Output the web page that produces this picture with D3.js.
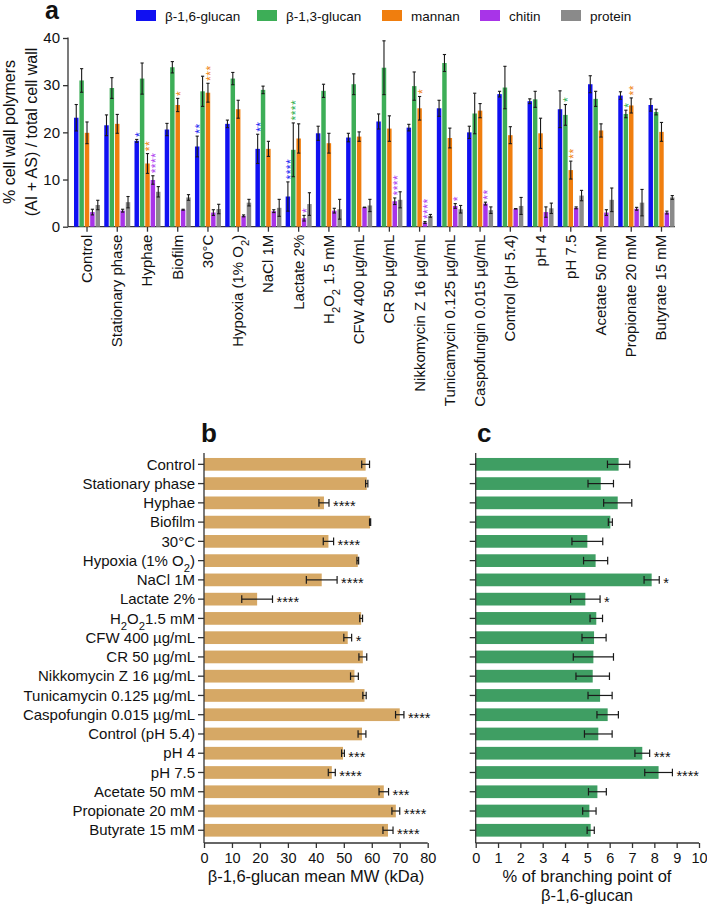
<!DOCTYPE html>
<html><head><meta charset="utf-8">
<script src="https://cdn.jsdelivr.net/npm/d3@7"></script>
<style>
html,body{margin:0;padding:0;background:#fff;}
svg{display:block;font-family:"Liberation Sans",Arial,sans-serif;}
</style></head>
<body>
<svg id="chart" width="707" height="905"></svg>
<script>
// ---------- DATA ----------
const categories = ["Control","Stationary phase","Hyphae","Biofilm","30°C","Hypoxia (1% O_2)","NaCl 1M","Lactate 2%","H_2O_2 1.5 mM","CFW 400 µg/mL","CR 50 µg/mL","Nikkomycin Z 16 µg/mL","Tunicamycin 0.125 µg/mL","Caspofungin 0.015 µg/mL","Control (pH 5.4)","pH 4","pH 7.5","Acetate 50 mM","Propionate 20 mM","Butyrate 15 mM"];
const categoriesB = ["Control","Stationary phase","Hyphae","Biofilm","30°C","Hypoxia (1% O_2)","NaCl 1M","Lactate 2%","H_2O_21.5 mM","CFW 400 µg/mL","CR 50 µg/mL","Nikkomycin Z 16 µg/mL","Tunicamycin 0.125 µg/mL","Caspofungin 0.015 µg/mL","Control (pH 5.4)","pH 4","pH 7.5","Acetate 50 mM","Propionate 20 mM","Butyrate 15 mM"];
const seriesNames = ["β-1,6-glucan","β-1,3-glucan","mannan","chitin","protein"];

const glucan16    = [23.1,21.5,18.2,20.6,17.0,21.8,16.5,6.4,19.8,18.9,22.3,21.0,25.1,20.0,28.1,26.6,24.9,30.2,27.8,25.8];
const glucan16Err = [2.8,2.2,0.3,1.3,2.2,0.8,3.1,3.1,1.5,0.9,1.6,0.7,1.7,1.3,0.6,0.5,3.9,1.8,0.8,1.3];
const glucan13    = [31.0,29.4,31.4,33.8,28.7,31.4,29.0,16.3,28.8,30.2,33.7,29.8,34.7,24.0,29.5,27.0,23.7,27.1,23.9,24.3];
const glucan13Err = [2.5,2.2,3.3,1.2,3.2,1.3,0.8,5.7,1.4,2.2,5.7,3.0,1.8,4.3,4.5,1.7,2.2,1.6,0.8,0.6];
const mannan      = [19.9,21.8,13.4,25.8,28.4,24.9,16.5,18.7,17.7,19.1,20.8,25.1,18.8,24.6,19.4,19.8,12.0,20.4,25.7,20.1];
const mannanErr   = [2.3,2.0,2.1,1.4,2.0,1.9,1.6,3.1,2.1,1.0,2.7,2.5,2.1,1.5,1.8,3.2,1.9,1.4,1.6,2.0];
const chitin      = [3.1,3.4,9.9,3.6,3.0,2.3,3.3,1.8,3.4,4.1,5.4,0.9,4.4,4.9,3.8,3.1,4.0,3.0,3.8,3.0];
const chitinErr   = [0.6,0.3,0.9,0.1,0.6,0.2,0.3,0.6,0.5,0.05,0.7,0.2,0.5,0.3,0.05,1.1,0.2,0.6,0.3,0.3];
const protein     = [4.6,5.2,7.4,6.2,3.75,5.1,4.0,4.8,3.7,4.5,5.7,2.3,3.7,3.5,4.4,3.9,6.6,5.7,5.1,6.2];
const proteinErr  = [1.0,1.2,1.1,0.6,1.0,0.7,1.8,2.4,2.1,1.3,1.7,0.3,0.8,0.7,1.8,1.1,1.1,2.5,2.8,0.4];

const glucan16Stars = ["","","*","","**","","**","****","","","","","","","","","","","",""];
const glucan13Stars = ["","","","","","","","****","","","","","","","","","*","","*",""];
const mannanStars   = ["","","**","*","***","","","","","","","*","","","","","**","","**",""];
const chitinStars   = ["","","****","","","","","*","","","****","****","*","**","","","","","",""];
const proteinStars  = ["","","","","","","","","","","","","","","","","","","",""];

const yTicksA = [0,10,20,30,40];

const mw      = [57.8,58.2,42.9,59.4,44.5,55.0,42.1,19.0,56.2,51.4,56.8,53.8,57.4,70.0,56.5,49.7,45.7,64.3,68.6,65.8];
const mwErr   = [1.4,0.4,1.8,0.2,1.85,0.3,5.5,5.5,0.5,1.4,1.4,1.4,0.6,1.5,1.4,0.5,1.25,1.7,1.4,1.8];
const mwStars = ["","","****","","****","","****","****","","*","","","","****","","***","****","***","****","****"];
const xTicksB = [0,10,20,30,40,50,60,70,80];

const branch      = [6.4,5.6,6.36,6.03,5.0,5.37,7.88,4.91,5.4,5.3,5.27,5.24,5.57,5.91,5.49,7.46,8.19,5.45,5.09,5.15];
const branchErr   = [0.5,0.57,0.63,0.09,0.69,0.54,0.34,0.66,0.28,0.54,0.9,0.75,0.54,0.48,0.62,0.33,0.62,0.4,0.3,0.16];
const branchStars = ["","","","","","","*","*","","","","","","","","***","****","","",""];
const xTicksC = [0,1,2,3,4,5,6,7,8,9,10];

// ---------- STYLE ----------
const colorsA = ["#1010F2","#3DAE57","#F07E0E","#A834E8","#8A8A8A"];
const starColorsA = ["#1E1EF2","#38B055","#F0861A","#B040F0","#888"];
const colorB = "#D6A865";
const colorC = "#3F9E63";
const axisColor = "#333";

const svg = d3.select("#chart");

function addLabel(sel, str){
  const parts = str.split(/(_\d)/);
  parts.forEach(p=>{
    if(!p) return;
    if(p[0]==="_"){
      sel.append("tspan").attr("baseline-shift","sub").attr("font-size","0.75em").text(p.slice(1));
    } else {
      sel.append("tspan").text(p);
    }
  });
}

// ================= PANEL A =================
const series = [
  {vals:glucan16, err:glucan16Err, stars:glucan16Stars},
  {vals:glucan13, err:glucan13Err, stars:glucan13Stars},
  {vals:mannan, err:mannanErr, stars:mannanStars},
  {vals:chitin, err:chitinErr, stars:chitinStars},
  {vals:protein, err:proteinErr, stars:proteinStars}
];
const xA = d3.scaleBand().domain(categories).range([71.9,676.6]).paddingInner(0.14).paddingOuter(0.07);
const xInner = d3.scaleBand().domain(d3.range(5)).range([0,xA.bandwidth()]).paddingInner(0.17);
const yA = d3.scaleLinear().domain([0,40]).range([226.7,38]);

const gA = svg.append("g");
const yAxisA = gA.append("g").attr("transform","translate(68,0)")
  .call(d3.axisLeft(yA).tickValues(yTicksA).tickSize(5).tickSizeOuter(0));
yAxisA.select(".domain").remove();
gA.append("line").attr("x1",68).attr("x2",68).attr("y1",yA(40)-0.5).attr("y2",yA(0)).attr("stroke",axisColor).attr("stroke-width",1.3);
yAxisA.selectAll(".tick line").attr("stroke",axisColor).attr("stroke-width",1.3);
yAxisA.selectAll(".tick text").attr("font-size",15).attr("fill","#111").attr("font-family","Liberation Sans, Arial, sans-serif");

const xAxisA = gA.append("g").attr("transform",`translate(0,${yA(0)})`)
  .call(d3.axisBottom(xA).tickSize(5).tickSizeOuter(0).tickFormat(""));
xAxisA.select(".domain").remove();
gA.append("line").attr("x1",68).attr("x2",675).attr("y1",yA(0)).attr("y2",yA(0)).attr("stroke",axisColor).attr("stroke-width",1.3);
xAxisA.selectAll(".tick line").attr("stroke",axisColor).attr("stroke-width",1.3);

categories.forEach(c=>{
  const cx = xA(c)+xA.bandwidth()/2;
  const t = gA.append("text")
    .attr("transform",`translate(${cx+5},${yA(0)+8}) rotate(-90)`)
    .attr("text-anchor","end").attr("font-size",15).attr("fill","#111");
  addLabel(t,c);
});

series.forEach((s,si)=>{
  const g = gA.append("g");
  categories.forEach((c,ci)=>{
    const x0 = xA(c)+xInner(si);
    const w = xInner.bandwidth();
    const v = s.vals[ci], e = s.err[ci];
    g.append("rect").attr("x",x0).attr("y",yA(v)).attr("width",w).attr("height",yA(0)-yA(v)).attr("fill",colorsA[si]);
    const cx = x0+w/2;
    g.append("line").attr("x1",cx).attr("x2",cx).attr("y1",yA(v+e)).attr("y2",yA(Math.max(0,v-e))).attr("stroke","#1a1a1a").attr("stroke-width",1.1);
    g.append("line").attr("x1",cx-1.6).attr("x2",cx+1.6).attr("y1",yA(v+e)).attr("y2",yA(v+e)).attr("stroke","#1a1a1a").attr("stroke-width",1.1);
    g.append("line").attr("x1",cx-1.6).attr("x2",cx+1.6).attr("y1",yA(Math.max(0,v-e))).attr("y2",yA(Math.max(0,v-e))).attr("stroke","#1a1a1a").attr("stroke-width",1.1);
    if(s.stars[ci]){
      // stacked significance stars, drawn as one vertical text run
      g.append("text")
        .attr("transform",`translate(${cx+7},${yA(v+e)-2.4}) rotate(-90)`)
        .attr("font-size",12).attr("letter-spacing",0.5)
        .attr("fill",starColorsA[si]).text(s.stars[ci]);
    }
  });
});

gA.append("text").attr("transform","translate(15,132) rotate(-90)").attr("text-anchor","middle")
  .attr("font-size",16).attr("fill","#111").text("% cell wall polymers");
gA.append("text").attr("transform","translate(37,132) rotate(-90)").attr("text-anchor","middle")
  .attr("font-size",16).attr("fill","#111").text("(AI + AS) / total cell wall");

const legX = [136,257,382,480,561];
seriesNames.forEach((n,i)=>{
  gA.append("rect").attr("x",legX[i]).attr("y",10).attr("width",20).attr("height",11).attr("fill",colorsA[i]);
  gA.append("text").attr("x",legX[i]+29).attr("y",20.5).attr("font-size",13.5).attr("fill","#111").text(n);
});

svg.append("text").attr("x",45).attr("y",19).attr("font-size",25).attr("font-weight","bold").attr("fill","#111").text("a");
svg.append("text").attr("x",201).attr("y",442).attr("font-size",26).attr("font-weight","bold").attr("fill","#111").text("b");
svg.append("text").attr("x",477).attr("y",442).attr("font-size",26).attr("font-weight","bold").attr("fill","#111").text("c");

// ================= PANEL B & C =================
function hbarPanel(opts){
  const {x0,x1,domainMax,ticks,vals,errs,stars,color,labels} = opts;
  const g = svg.append("g");
  const yS = d3.scaleBand().domain(categories).range([454.7,839.9]).paddingInner(0.34).paddingOuter(0.17);
  const xS = d3.scaleLinear().domain([0,domainMax]).range([x0,x1]);
  const axisTop = 453, axisBottom = 843;
  categories.forEach((c,i)=>{
    const y = yS(c), h = yS.bandwidth(), cy = y+h/2;
    const v = vals[i], e = errs[i];
    g.append("rect").attr("x",xS(0)).attr("y",y).attr("width",xS(v)-xS(0)).attr("height",h).attr("fill",color);
    g.append("line").attr("x1",xS(v-e)).attr("x2",xS(v+e)).attr("y1",cy).attr("y2",cy).attr("stroke","#1a1a1a").attr("stroke-width",1.2);
    [v-e,v+e].forEach(q=>{
      g.append("line").attr("x1",xS(q)).attr("x2",xS(q)).attr("y1",cy-3.8).attr("y2",cy+3.8).attr("stroke","#1a1a1a").attr("stroke-width",1.2);
    });
    if(stars[i]){
      g.append("text").attr("x",xS(v+e)+4).attr("y",cy+8.3).attr("font-size",14.5).attr("fill","#111").text(stars[i]);
    }
  });
  const ya = g.append("g").attr("transform",`translate(${x0},0)`)
    .call(d3.axisLeft(yS).tickSize(6).tickSizeOuter(0).tickFormat(""));
  ya.select(".domain").remove();
  ya.selectAll(".tick line").attr("stroke",axisColor).attr("stroke-width",1.3);
  g.append("line").attr("x1",x0).attr("x2",x0).attr("y1",axisTop).attr("y2",axisBottom).attr("stroke",axisColor).attr("stroke-width",1.3);
  if(labels){
    categories.forEach((c,i)=>{
      const t = g.append("text").attr("x",x0-9).attr("y",yS(c)+yS.bandwidth()/2+5.2)
        .attr("text-anchor","end").attr("font-size",15).attr("fill","#111");
      addLabel(t,labels[i]);
    });
  }
  const xa = g.append("g").attr("transform",`translate(0,${axisBottom})`)
    .call(d3.axisBottom(xS).tickValues(ticks).tickSize(5).tickSizeOuter(0));
  xa.select(".domain").remove();
  g.append("line").attr("x1",x0).attr("x2",x1).attr("y1",axisBottom).attr("y2",axisBottom).attr("stroke",axisColor).attr("stroke-width",1.3);
  xa.selectAll(".tick line").attr("stroke",axisColor).attr("stroke-width",1.3);
  xa.selectAll(".tick text").attr("font-size",14.5).attr("fill","#111").attr("dy","0.85em")
    .attr("font-family","Liberation Sans, Arial, sans-serif");
  return g;
}

const gB = hbarPanel({x0:204,x1:427.7,domainMax:80,ticks:xTicksB,vals:mw,errs:mwErr,stars:mwStars,color:colorB,labels:categoriesB});
gB.append("text").attr("x",316).attr("y",882).attr("text-anchor","middle").attr("font-size",16.5).attr("fill","#111")
  .text("β-1,6-glucan mean MW (kDa)");

const gC = hbarPanel({x0:475.7,x1:699,domainMax:10,ticks:xTicksC,vals:branch,errs:branchErr,stars:branchStars,color:colorC,labels:null});
gC.append("text").attr("x",587).attr("y",882).attr("text-anchor","middle").attr("font-size",16.5).attr("fill","#111")
  .text("% of branching point of");
gC.append("text").attr("x",587).attr("y",901).attr("text-anchor","middle").attr("font-size",16.5).attr("fill","#111")
  .text("β-1,6-glucan");
</script>
</body></html>
